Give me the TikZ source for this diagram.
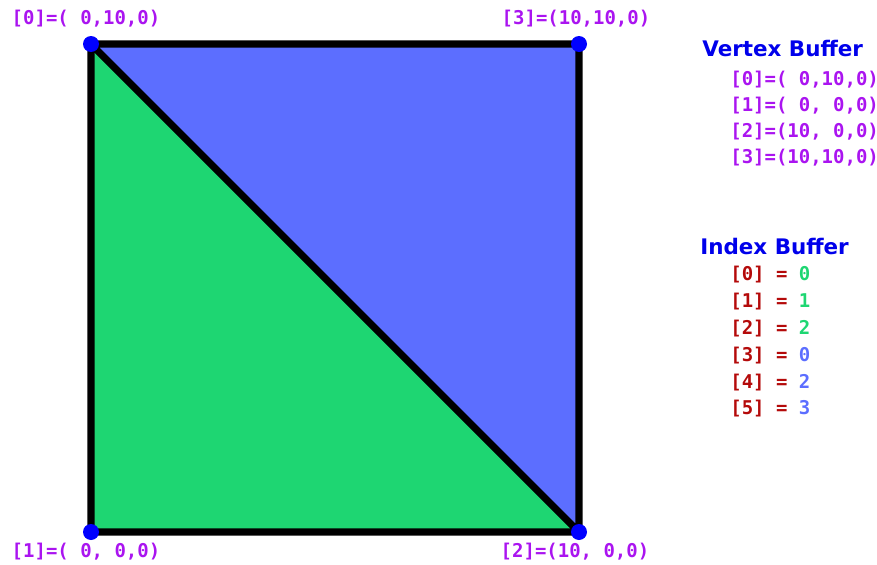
\documentclass[tikz,border=0pt]{standalone}
\usepackage{fontspec}
\setmainfont{DejaVu Sans}
\setmonofont{DejaVu Sans Mono}

\definecolor{verde}{RGB}{30,214,114}
\definecolor{azul}{RGB}{92,110,255}
\definecolor{roxo}{RGB}{170,20,240}
\definecolor{vermelho}{RGB}{180,10,10}
\definecolor{titulo}{RGB}{0,0,235}

\begin{document}
\begin{tikzpicture}[x=0.02cm,y=-0.02cm,
  codigo/.style={inner sep=0pt,font=\ttfamily\bfseries\fontsize{10.8}{12}\selectfont},
  rotulo/.style={codigo,text=roxo},
  titulo/.style={inner sep=0pt,anchor=west,text=titulo,font=\bfseries\fontsize{12.2}{14}\selectfont},
  aresta/.style={draw=black,line width=4pt,line join=round}]

\useasboundingbox (0,0) rectangle (877,565);

\def\L{91}  % lado esquerdo
\def\D{579} % lado direito
\def\C{44}  % topo
\def\B{532} % base

% Vertices do quadrado
\coordinate (v0) at (\L,\C);
\coordinate (v1) at (\L,\B);
\coordinate (v2) at (\D,\B);
\coordinate (v3) at (\D,\C);

% Triangulos
\path[aresta,fill=verde] (v0) -- (v1) -- (v2) -- cycle;
\path[aresta,fill=azul] (v0) -- (v2) -- (v3) -- cycle;

% Pontos dos vertices
\foreach \v in {0,...,3} {
  \fill[blue] (v\v) circle (8);
}

% Rotulos dos vertices
\node[rotulo] (r0) at (86,19) {[0]=( 0,10,0)};
\node[rotulo] (r3) at (576,19) {[3]=(10,10,0)};
\node[rotulo] (r1) at (86,552) {[1]=( 0, 0,0)};
\node[rotulo] (r2) at (575,552) {[2]=(10, 0,0)};

% Vertex Buffer
\node[titulo] (vb) at (702,49) {Vertex Buffer};
\foreach \i/\txt in {0/{( 0,10,0)},1/{( 0, 0,0)},2/{(10, 0,0)},3/{(10,10,0)}} {
  \node[rotulo,anchor=west] (vb\i) at (730,80+26*\i) {[\i]=\txt};
}

% Index Buffer
\node[titulo] (ib) at (700,247) {Index Buffer};
\foreach \i/\v/\cor in {0/0/verde,1/1/verde,2/2/verde,3/0/azul,4/2/azul,5/3/azul} {
  \node[codigo,anchor=west,text=vermelho] (ib\i) at (730,275+26.8*\i) {[\i] = \textcolor{\cor}{\v}};
}

\end{tikzpicture}
\end{document}
